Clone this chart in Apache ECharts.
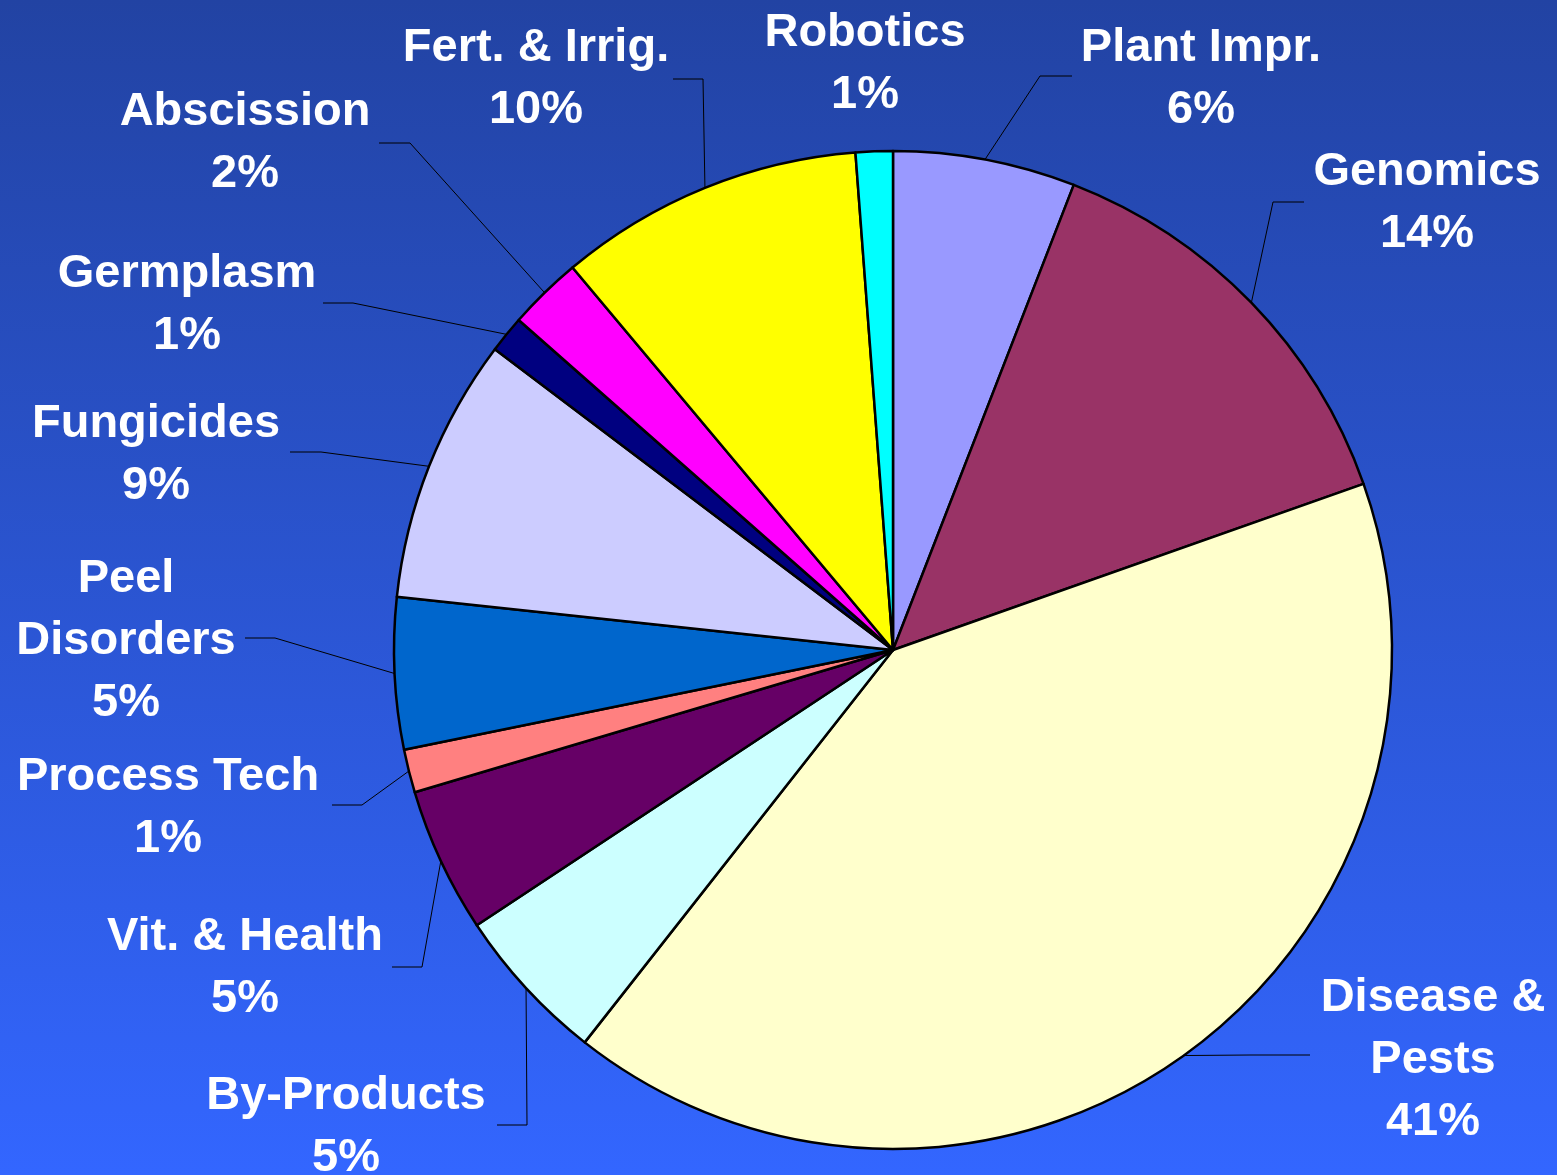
<!DOCTYPE html>
<html>
<head>
<meta charset="utf-8">
<script src="https://cdn.jsdelivr.net/npm/echarts@6/dist/echarts.min.js"></script>
<style>
html,body{margin:0;padding:0;}
#myChart{width:1557px;height:1175px;}
</style>
</head>
<body>
<div id="myChart"></div>
<script>
/*饼图数据*/
var names = ['Plant Impr.', 'Genomics', 'Disease &\nPests', 'By-Products', 'Vit. & Health', 'Process Tech',
    'Peel\nDisorders', 'Fungicides', 'Germplasm', 'Abscission', 'Fert. & Irrig.', 'Robotics'];
var values = [5.9, 13.7, 41.0, 5.1, 4.7, 1.4, 4.9, 8.6, 1.2, 2.4, 9.9, 1.2];
var colors = ['#9999ff', '#993366', '#ffffcc', '#ccffff', '#660066', '#ff8080',
    '#0066cc', '#ccccff', '#000080', '#ff00ff', '#ffff00', '#00ffff'];

/*标签位置 (label center, elbow, end of leader line)*/
var labelSpots = [
    [1201, 79, 1040, 76, 1072],
    [1427, 203, 1273, 202, 1304],
    [1433, 1060, 1250, 1055, 1310],
    [346, 1127, 527, 1125, 497],
    [245, 968, 422, 967, 392],
    [168, 808, 362, 805, 332],
    [126, 641, 275, 638, 245],
    [156, 455, 321, 452, 290],
    [187, 305, 353, 303, 323],
    [245, 143, 410, 143, 379],
    [536, 79, 703, 79, 673],
    [865, 64, null, null, null]
];

var myChart = echarts.init(document.getElementById('myChart'));

var data = [];
for (var i = 0; i < values.length; i++) {
    var item = {name: names[i], value: values[i], itemStyle: {color: colors[i]}};
    if (labelSpots[i][2] == null) {
        item.labelLine = {show: false};
    }
    data.push(item);
}

myChart.setOption({
    backgroundColor: {
        type: 'linear', x: 0, y: 0, x2: 0, y2: 1,
        colorStops: [{offset: 0, color: '#2243a3'}, {offset: 1, color: '#3366ff'}]
    },
    animation: false,
    series: [{
        type: 'pie',
        center: [893, 650],
        radius: [0, 499],
        startAngle: 90,
        clockwise: true,
        avoidLabelOverlap: false,
        itemStyle: {borderColor: '#000', borderWidth: 2.5},
        label: {
            show: true,
            position: 'outside',
            color: '#fff',
            fontFamily: 'Liberation Sans, Arial, sans-serif',
            fontWeight: 'bold',
            fontSize: 47,
            lineHeight: 62,
            formatter: function (p) {
                return p.name + '\n' + Math.round(p.percent) + '%';
            }
        },
        labelLine: {
            show: true,
            smooth: false,
            lineStyle: {color: '#000', width: 1}
        },
        labelLayout: function (params) {
            var s = labelSpots[params.dataIndex];
            var out = {x: s[0], y: s[1], align: 'center', verticalAlign: 'middle'};
            if (s[2] != null && params.labelLinePoints) {
                out.labelLinePoints = [params.labelLinePoints[0], [s[2], s[3]], [s[4], s[3]]];
            }
            return out;
        },
        data: data
    }]
});
</script>
</body>
</html>
